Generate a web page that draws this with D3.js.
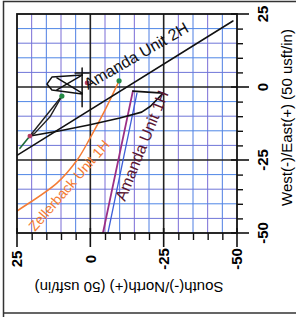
<!DOCTYPE html>
<html lang="en">
<head>
<meta charset="utf-8">
<script src="https://d3js.org/d3.v7.min.js"></script>
<style>
    body { margin: 0; background: #fff; }
    text { font-family: Arial, "Liberation Sans", sans-serif; }
    .well { fill: none; stroke-linejoin: round; stroke-linecap: round; }
</style>
<title>Plan view</title>
</head>
<body>
<div id="plot"></div>
<script>
// horizontal axis = South(-)/North(+), vertical axis = West(-)/East(+), both usft
var nsTicks = [25, 0, -25, -50];
var ewTicks = [25, 0, -25, -50];
var gridStep = 5;

// paths as [ns, ew]
var amanda2H = [[28, -25.3], [-48.6, 22.6]];
var amanda1H = [[20.6, -16.8], [10.3, -15.0], [0.1, -12.9], [-10.1, -10.6], [-17.5, -8.6], [-20.5, -6.6], [-24.8, -2.1], [-14.5, -1.4]];
var zellerback1H = [[27, -44], [25, -42.5], [11.4, -32.9], [4.5, -25.0], [0.1, -17.5], [-5.0, -7.9], [-9.8, 2.1]];
var planLine = [[-4.3, -50], [-14.5, -1.4]];
var actualLine = [[-6.0, -50], [-15.9, -2.1]];
var tieLine1 = [[9.7, -3.1], [20.6, -16.8]];
var tieLine2 = [[9.7, -3.1], [13.8, -10.3], [18.9, -15.8], [20.6, -16.8]];
var tieTail = [[20.6, -16.8], [24, -21]];
var padOutline = [[2.8, 4.1], [13.1, 3.4], [14.8, 1.0], [13.1, -1.0], [2.8, -2.4]];
var padCross1 = [[11.4, 3.1], [2.8, -2.1]];
var padCross2 = [[11.4, -1.0], [2.8, 4.1]];
var padPost = [[2.8, 6.5], [2.8, -6.8]];
var padBar = [[5.2, 4.8], [0.4, 4.8]];
var greenDots = [[9.7, -3.1], [-9.8, 2.1]];
var redDots = [[20.6, -16.8], [1.1, 1.4]];

var labelText = ["Amanda Unit 2H", "Amanda Unit 1H", "Zellerback Unit 1H"];
var labelNS = [0.8, -11.8, 18.9];
var labelEW = [-1.0, -39.4, -49.7];

var margin = {top: 14, right: 59, bottom: 84, left: 17},
    width = 296 - margin.left - margin.right,
    height = 317 - margin.top - margin.bottom;

var root = d3.select("#plot")
    .append("svg")
        .attr("width", 296)
        .attr("height", 317);

// scanned page frame
root.append("path")
    .attr("d", "M3.5,320 V1.5 H300 M3.5,313 H300")
    .attr("fill", "none")
    .attr("stroke", "#333")
    .attr("stroke-width", 1.5);

var svg = root.append("g")
    .attr("transform", "translate(" + margin.left + "," + margin.top + ")");

var x = d3.scaleLinear().domain([25, -50]).range([0, width]);
var y = d3.scaleLinear().domain([25, -50]).range([0, height]);

var gridVals = d3.range(25, -50.01, -gridStep);
var minorVals = gridVals.filter(function(v) { return nsTicks.indexOf(v) < 0; });

// minor grid
svg.selectAll(".vgrid").data(minorVals).enter().append("line")
    .attr("x1", function(d) { return x(d); }).attr("x2", function(d) { return x(d); })
    .attr("y1", 0).attr("y2", height)
    .attr("stroke", function(d, i) { return i % 2 ? "#4f7fe3" : "#7a6cd6"; })
    .attr("stroke-width", 1);
svg.selectAll(".hgrid").data(minorVals).enter().append("line")
    .attr("y1", function(d) { return y(d); }).attr("y2", function(d) { return y(d); })
    .attr("x1", 0).attr("x2", width)
    .attr("stroke", function(d, i) { return i % 2 ? "#6f76d8" : "#4f86e6"; })
    .attr("stroke-width", 1);

// major grid
svg.selectAll(".vmaj").data(nsTicks.slice(1, 3)).enter().append("line")
    .attr("x1", function(d) { return x(d); }).attr("x2", function(d) { return x(d); })
    .attr("y1", 0).attr("y2", height)
    .attr("stroke", "#222").attr("stroke-width", 1.6);
svg.selectAll(".hmaj").data(ewTicks.slice(1, 3)).enter().append("line")
    .attr("y1", function(d) { return y(d); }).attr("y2", function(d) { return y(d); })
    .attr("x1", 0).attr("x2", width)
    .attr("stroke", "#222").attr("stroke-width", 1.6);

// wells, clipped to plot area
svg.append("clipPath").attr("id", "clip")
    .append("rect").attr("width", width).attr("height", height);
var wells = svg.append("g").attr("clip-path", "url(#clip)");

var line = d3.line()
    .x(function(d) { return x(d[0]); })
    .y(function(d) { return y(d[1]); });
var smooth = d3.line()
    .curve(d3.curveCatmullRom)
    .x(function(d) { return x(d[0]); })
    .y(function(d) { return y(d[1]); });

function drawPath(data, gen, color, w) {
    wells.append("path")
        .datum(data)
        .attr("class", "well")
        .attr("d", gen)
        .attr("stroke", color)
        .attr("stroke-width", w);
}

drawPath(zellerback1H, smooth, "#f47c34", 1.5);
drawPath(planLine, line, "#9b2f86", 1.8);
drawPath(actualLine, line, "#3f5fd8", 1.3);
drawPath(amanda2H, line, "#111", 1.6);
drawPath(amanda1H, line, "#111", 1.6);
drawPath(tieLine1, line, "#222", 1.4);
drawPath(tieLine2, line, "#222", 1.4);
drawPath(tieTail, line, "#1d6b3a", 1.6);
[padOutline, padCross1, padCross2, padPost, padBar].forEach(function(p) {
    drawPath(p, line, "#111", 1.5);
});

wells.selectAll(".gdot").data(greenDots).enter().append("circle")
    .attr("cx", function(d) { return x(d[0]); })
    .attr("cy", function(d) { return y(d[1]); })
    .attr("r", 2.6).attr("fill", "#238a45");
wells.selectAll(".rdot").data(redDots).enter().append("circle")
    .attr("cx", function(d) { return x(d[0]); })
    .attr("cy", function(d) { return y(d[1]); })
    .attr("r", 2.4).attr("fill", "#b23a62");

// well labels
var labelStyle = [
    {angle: -30, color: "#111", size: 16},
    {angle: -68, color: "#5a1632", size: 16},
    {angle: -49, color: "#f47c34", size: 14}
];
svg.selectAll(".lbl").data(labelText).enter().append("text")
    .attr("transform", function(d, i) {
        return "translate(" + x(labelNS[i]) + "," + y(labelEW[i]) + ") rotate(" + labelStyle[i].angle + ")";
    })
    .attr("fill", function(d, i) { return labelStyle[i].color; })
    .style("font-size", function(d, i) { return labelStyle[i].size + "px"; })
    .text(function(d) { return d; });

// plot border
svg.append("rect")
    .attr("width", width).attr("height", height)
    .attr("fill", "none").attr("stroke", "#111").attr("stroke-width", 1.8);

// right axis (West/East)
var yAxis = svg.append("g")
    .attr("transform", "translate(" + width + ",0)")
    .call(d3.axisRight(y).tickValues(minorVals).tickSize(6).tickFormat(""));
yAxis.select(".domain").remove();
yAxis.selectAll("line").attr("stroke", "#111").attr("stroke-width", 1.4);
svg.selectAll(".ymaj").data(ewTicks).enter().append("line")
    .attr("x1", width - 6).attr("x2", width + 12)
    .attr("y1", function(d) { return y(d); }).attr("y2", function(d) { return y(d); })
    .attr("stroke", "#111").attr("stroke-width", 1.6);
svg.selectAll(".ylab").data(ewTicks).enter().append("text")
    .attr("transform", function(d) { return "translate(" + (width + 26) + "," + y(d) + ") rotate(-90)"; })
    .attr("text-anchor", "middle")
    .attr("dy", "0.35em")
    .style("font-size", "15px").style("font-weight", "bold")
    .text(function(d) { return d; });

// bottom axis (South/North)
var xAxis = svg.append("g")
    .attr("transform", "translate(0," + height + ")")
    .call(d3.axisBottom(x).tickValues(minorVals).tickSize(7).tickFormat(""));
xAxis.select(".domain").remove();
xAxis.selectAll("line").attr("stroke", "#111").attr("stroke-width", 1.4);
svg.selectAll(".xmaj").data(nsTicks).enter().append("line")
    .attr("y1", height - 5).attr("y2", height + 14)
    .attr("x1", function(d) { return x(d); }).attr("x2", function(d) { return x(d); })
    .attr("stroke", "#111").attr("stroke-width", 1.6);
svg.selectAll(".xlab").data(nsTicks).enter().append("text")
    .attr("transform", function(d) { return "translate(" + x(d) + "," + (height + 26) + ") rotate(-90)"; })
    .attr("text-anchor", "middle")
    .attr("dy", "0.35em")
    .style("font-size", "15px").style("font-weight", "bold")
    .text(function(d) { return d; });

// axis titles
svg.append("text")
    .attr("transform", "translate(" + (width + 50) + "," + (height / 2 - 6) + ") rotate(-90)")
    .attr("text-anchor", "middle")
    .attr("dy", "0.35em")
    .style("font-size", "15px")
    .text("West(-)/East(+) (50 usft/in)");
svg.append("text")
    .attr("transform", "translate(" + (width / 2 + 2) + "," + (height + 54) + ") rotate(180)")
    .attr("text-anchor", "middle")
    .attr("dy", "0.35em")
    .style("font-size", "15px")
    .text("South(-)/North(+) (50 usft/in)");
</script>
</body>
</html>
